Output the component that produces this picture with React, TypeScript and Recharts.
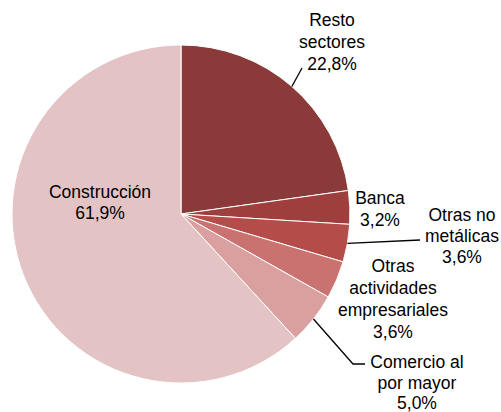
import React from "react";
import { PieChart, Pie, Cell } from "recharts";

const categories = [
  "Resto sectores",
  "Banca",
  "Otras no metálicas",
  "Otras actividades empresariales",
  "Comercio al por mayor",
  "Construcción",
];
const values = [22.8, 3.2, 3.6, 3.6, 5.0, 61.9];
const valueLabels = ["22,8%", "3,2%", "3,6%", "3,6%", "5,0%", "61,9%"];
const labelLines = [
  ["Resto", "sectores"],
  ["Banca"],
  ["Otras no", "metálicas"],
  ["Otras", "actividades", "empresariales"],
  ["Comercio al", "por mayor"],
  ["Construcción"],
];
const colors = ["#8B3A3A", "#9E3F3E", "#B44C49", "#C97270", "#D9A09F", "#E3C3C4"];

// label layout relative to pie centre: x, first line y, line step, leader points
const labelLayout = [
  { x: 151, y: -194, step: 22, leader: [[121, -146]] },
  { x: 199, y: -16, step: 22, leader: null },
  { x: 281, y: 1, step: 21, leader: [[239, 26]] },
  { x: 212, y: 52, step: 22, leader: null },
  { x: 236, y: 148, step: 20.5, leader: [[172, 150], [184, 150]] },
  { x: -81, y: -22, step: 21, leader: null },
];

const data = categories.map((name, i) => ({ name, value: values[i] }));

const RAD = Math.PI / 180;

function renderLabel(props: any) {
  const { cx, cy, midAngle, outerRadius, index } = props;
  const lay = labelLayout[index];
  const lines = [...labelLines[index], valueLabels[index]];
  const sx = cx + outerRadius * Math.cos(-midAngle * RAD);
  const sy = cy + outerRadius * Math.sin(-midAngle * RAD);
  let path = null;
  if (lay.leader) {
    const pts = [[sx, sy], ...lay.leader.map((p) => [cx + p[0], cy + p[1]])];
    path = (
      <polyline
        points={pts.map((p) => p.join(",")).join(" ")}
        fill="none"
        stroke="#000"
        strokeWidth={1.3}
      />
    );
  }
  return (
    <g key={"lbl" + index}>
      {path}
      {lines.map((t, j) => (
        <text
          key={j}
          x={cx + lay.x}
          y={cy + lay.y + j * lay.step}
          textAnchor="middle"
          dominantBaseline="central"
          fontFamily="'Liberation Sans', Arial, sans-serif"
          fontSize={17.5}
          fill="#000"
        >
          {t}
        </text>
      ))}
    </g>
  );
}

export default function App() {
  return (
    <div style={{ position: "absolute", left: 0, top: 0, background: "#fff" }}>
      <PieChart width={501} height={412} margin={{ top: 0, right: 0, bottom: 0, left: 0 }}>
        <Pie
          data={data}
          dataKey="value"
          nameKey="name"
          cx={181}
          cy={214}
          outerRadius={169}
          startAngle={90}
          endAngle={-270}
          stroke="#fff"
          strokeWidth={1}
          label={renderLabel}
          labelLine={false}
          isAnimationActive={false}
        >
          {data.map((d, i) => (
            <Cell key={d.name} fill={colors[i]} />
          ))}
        </Pie>
      </PieChart>
    </div>
  );
}
